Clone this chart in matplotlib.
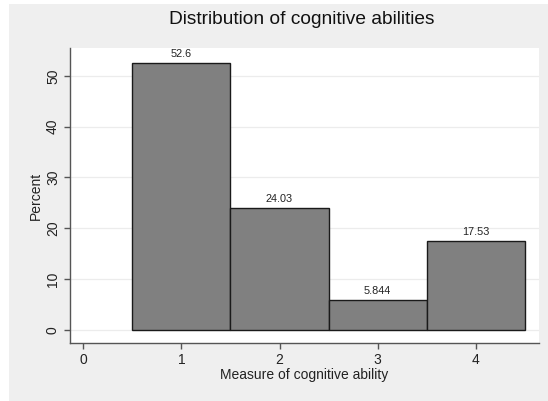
import matplotlib
matplotlib.use('Agg')
from matplotlib import pyplot as plt
from matplotlib.patches import Rectangle

plt.rcParams['font.family'] = ['Liberation Sans', 'DejaVu Sans']

# data
categories = [1, 2, 3, 4]
percents = [52.6, 24.03, 5.844, 17.53]
bar_labels = ['52.6', '24.03', '5.844', '17.53']
xticks = [0, 1, 2, 3, 4]
yticks = [0, 10, 20, 30, 40, 50]

W, H = 548, 401
fig = plt.figure(figsize=(W / 100, H / 100), dpi=100)
fig.patch.set_facecolor('white')

# stata-like gray graph region
bg = Rectangle((9 / W, 0), 1 - 9 / W, (H - 4) / H, transform=fig.transFigure,
               facecolor='#efefef', edgecolor='none', zorder=-10)
fig.add_artist(bg)

ax = fig.add_axes([69.7 / W, (H - 343.3) / H, (539.3 - 69.7) / W, (343.3 - 48) / H])
ax.set_facecolor('white')

ax.bar(categories, percents, width=1.0, color='#808080', edgecolor='#1a1a1a',
       linewidth=1.0, zorder=3)
for x, v, s in zip(categories, percents, bar_labels):
    ax.annotate(s, (x, v), xytext=(0, 3), textcoords='offset points',
                ha='center', va='bottom', fontsize=7.8, color='#222222', zorder=4)

ax.set_xlim(-0.139, 4.648)
ax.set_ylim(-2.68, 55.5)
ax.set_xticks(xticks)
ax.set_yticks(yticks)
ax.set_yticklabels([str(t) for t in yticks], rotation=90, va='center')
ax.tick_params(axis='both', labelsize=10, length=4, width=1,
               direction='out', pad=3, colors='#555555', labelcolor='#222222')

ax.grid(axis='y', color='#ececec', linewidth=0.9, zorder=0)
ax.set_axisbelow(True)

for side in ['top', 'right']:
    ax.spines[side].set_visible(False)
for side in ['left', 'bottom']:
    ax.spines[side].set_color('#555555')
    ax.spines[side].set_linewidth(1.0)

ax.set_xlabel('Measure of cognitive ability', fontsize=10, color='#222222', labelpad=1)
ax.set_ylabel('Percent', fontsize=10, color='#222222', labelpad=2)
fig.text(301.5 / W, 1 - 19 / H, 'Distribution of cognitive abilities', ha='center',
         va='center', fontsize=13.8, color='#111111')

plt.savefig('out.png', dpi=100)
